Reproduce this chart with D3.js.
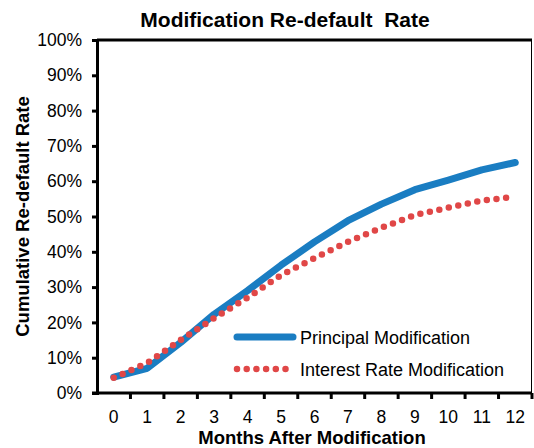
<!DOCTYPE html>
<html>
<head>
<meta charset="utf-8">
<script src="https://cdn.jsdelivr.net/npm/d3@7"></script>
<style>
  body { margin: 0; background: #fff; }
  svg text { font-family: "Liberation Sans", Arial, sans-serif; fill: #000; }
</style>
</head>
<body>
<div id="chart"></div>
<script>
// months after modification
const months = [0, 1, 2, 3, 4, 5, 6, 7, 8, 9, 10, 11, 12];
// cumulative re-default rate, percent
const principal = [4.5, 7.0, 14.3, 22.3, 29.0, 36.2, 42.8, 48.8, 53.5, 57.6, 60.3, 63.2, 65.3];
const interest = [4.3, 8.5, 15.0, 21.2, 27.0, 33.4, 38.2, 42.8, 46.8, 50.4, 52.5, 54.5, 55.6];
const yTicks = [0, 10, 20, 30, 40, 50, 60, 70, 80, 90, 100];

const width = 534, height = 448;
const margin = {top: 40, right: 2, bottom: 55, left: 97};

const svg = d3.select("#chart").append("svg")
  .attr("width", width)
  .attr("height", height);

const plotW = width - margin.left - margin.right;
const plotH = height - margin.top - margin.bottom;

// category axis, ticks between categories like Excel
const xBand = d3.scaleBand().domain(months).range([margin.left, margin.left + plotW]);
const xScale = m => xBand(m) + xBand.bandwidth() / 2;
const yScale = d3.scaleLinear().domain([0, 100]).range([margin.top + plotH, margin.top]);

// plot area border
svg.append("line")
  .attr("x1", margin.left).attr("x2", margin.left + plotW)
  .attr("y1", margin.top).attr("y2", margin.top)
  .style("stroke", "#000").style("stroke-width", 3);
svg.append("line")
  .attr("x1", margin.left + plotW - 0.5).attr("x2", margin.left + plotW - 0.5)
  .attr("y1", margin.top).attr("y2", margin.top + plotH)
  .style("stroke", "#000").style("stroke-width", 1);

// y axis
const yAxis = d3.axisLeft(yScale).tickValues(yTicks).tickFormat(d => d + "%").tickSize(5).tickPadding(10);
const gy = svg.append("g")
  .attr("transform", `translate(${margin.left},0)`)
  .call(yAxis);
gy.select(".domain").style("stroke-width", 3);
gy.selectAll(".tick line").style("stroke-width", 3);
gy.selectAll("text").style("font-size", "17.5px");

// x axis
const boundaries = months.map(m => xBand(m)).concat([margin.left + plotW]).slice(1);
const gx = svg.append("g")
  .attr("transform", `translate(0,${margin.top + plotH})`);
gx.append("line")
  .attr("x1", margin.left - 5).attr("x2", margin.left + plotW)
  .style("stroke", "#000").style("stroke-width", 3);
gx.selectAll(".xtick").data(boundaries).enter().append("line")
  .attr("class", "xtick")
  .attr("x1", d => d).attr("x2", d => d)
  .attr("y1", 0).attr("y2", 6)
  .style("stroke", "#000").style("stroke-width", 3);
gx.selectAll(".xlabel").data(months).enter().append("text")
  .attr("class", "xlabel")
  .attr("x", d => xScale(d))
  .attr("y", 30)
  .style("text-anchor", "middle")
  .style("font-size", "17.5px")
  .text(d => d);

// lines
const line = d3.line().x((d, i) => xScale(months[i])).y(d => yScale(d));

svg.append("path")
  .datum(principal)
  .attr("d", line)
  .style("fill", "none")
  .style("stroke", "#1a7dc2")
  .style("stroke-width", 7)
  .style("stroke-linejoin", "round")
  .style("stroke-linecap", "round");

svg.append("path")
  .datum(interest)
  .attr("d", line)
  .style("fill", "none")
  .style("stroke", "#e04747")
  .style("stroke-width", 6.5)
  .style("stroke-dasharray", "0 9.7")
  .style("stroke-linecap", "round");

// legend
const legend = svg.append("g");
legend.append("line")
  .attr("x1", 237).attr("x2", 293).attr("y1", 337).attr("y2", 337)
  .style("stroke", "#1a7dc2").style("stroke-width", 7).style("stroke-linecap", "round");
legend.append("line")
  .attr("x1", 237).attr("x2", 290).attr("y1", 369).attr("y2", 369)
  .style("stroke", "#e04747").style("stroke-width", 6.5)
  .style("stroke-dasharray", "0 9.7").style("stroke-linecap", "round");
legend.append("text")
  .attr("x", 300).attr("y", 344)
  .style("font-size", "18px")
  .text("Principal Modification");
legend.append("text")
  .attr("x", 300).attr("y", 376)
  .style("font-size", "18px")
  .text("Interest Rate Modification");

// titles
svg.append("text")
  .attr("x", 285).attr("y", 27)
  .style("text-anchor", "middle")
  .style("font-size", "21px")
  .style("font-weight", "bold")
  .style("white-space", "pre")
  .text("Modification Re-default  Rate");

svg.append("text")
  .attr("x", 312).attr("y", 444)
  .style("text-anchor", "middle")
  .style("font-size", "18.5px")
  .style("font-weight", "bold")
  .text("Months After Modification");

svg.append("text")
  .attr("transform", `translate(29,${margin.top + plotH / 2}) rotate(-90)`)
  .style("text-anchor", "middle")
  .style("font-size", "18.5px")
  .style("font-weight", "bold")
  .text("Cumulative Re-default Rate");
</script>
</body>
</html>
